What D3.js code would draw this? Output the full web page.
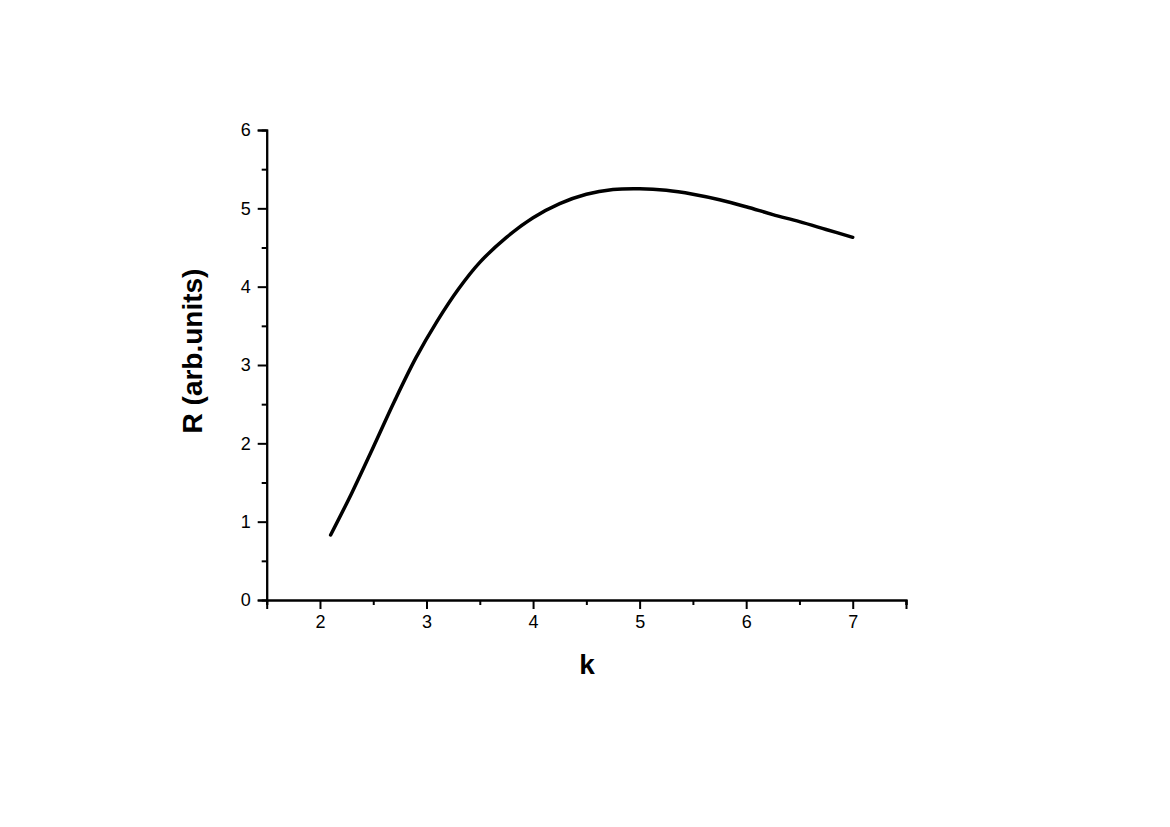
<!DOCTYPE html>
<html>
<head>
<meta charset="utf-8">
<script src="https://cdn.jsdelivr.net/npm/d3@7"></script>
<style>
    body { margin: 0; background: #fff; }
    svg text { font-family: "Liberation Sans", Arial, sans-serif; fill: #000; }
</style>
</head>
<body>
<script>
"use strict";

const kValues = [2.1, 2.3, 2.5, 2.7, 2.9, 3.1, 3.3, 3.5, 3.75, 4.0, 4.25, 4.5, 4.75, 5.0, 5.25, 5.5, 5.75, 6.0, 6.25, 6.5, 6.75, 7.0];
const rValues = [0.83, 1.37, 1.95, 2.54, 3.09, 3.56, 3.97, 4.31, 4.63, 4.88, 5.06, 5.18, 5.24, 5.25, 5.23, 5.18, 5.11, 5.02, 4.92, 4.83, 4.73, 4.63];
const xMajorTicks = [2, 3, 4, 5, 6, 7];
const xMinorTicks = [1.5, 2.5, 3.5, 4.5, 5.5, 6.5, 7.5];
const yMajorTicks = [0, 1, 2, 3, 4, 5, 6];
const yMinorTicks = [0.5, 1.5, 2.5, 3.5, 4.5, 5.5];
const xTitle = "k";
const yTitle = "R (arb.units)";

(function(){
    const measurements = {
        width: 1170,
        height: 827,
        left: 266.7,
        right: 906,
        top: 130,
        bottom: 600
    }

    const svg = d3.select("body").append("svg")
        .attr("width", measurements.width)
        .attr("height", measurements.height);

    const scaleX = d3.scaleLinear()
        .domain([1.5, 7.5])
        .range([measurements.left, measurements.right]);

    const scaleY = d3.scaleLinear()
        .domain([0, 6])
        .range([measurements.bottom, measurements.top]);

    // minor ticks first, majors drawn on top with labels
    const xMinor = svg.append("g")
        .attr("transform", `translate(0,${measurements.bottom})`)
        .call(d3.axisBottom(scaleX).tickValues(xMinorTicks).tickSize(5).tickFormat(""));
    const xMajor = svg.append("g")
        .attr("transform", `translate(0,${measurements.bottom})`)
        .call(d3.axisBottom(scaleX).tickValues(xMajorTicks).tickSize(9).tickPadding(6).tickFormat(d3.format("d")));

    const yMinor = svg.append("g")
        .attr("transform", `translate(${measurements.left},0)`)
        .call(d3.axisLeft(scaleY).tickValues(yMinorTicks).tickSize(5).tickFormat(""));
    const yMajor = svg.append("g")
        .attr("transform", `translate(${measurements.left},0)`)
        .call(d3.axisLeft(scaleY).tickValues(yMajorTicks).tickSize(9).tickPadding(7).tickFormat(d3.format("d")));

    [xMinor, xMajor, yMinor, yMajor].forEach(g => {
        g.attr("font-size", null).attr("font-family", null);
        g.selectAll("path").attr("stroke", "#000").attr("stroke-width", 2);
        g.selectAll("line").attr("stroke", "#000").attr("stroke-width", 2);
        g.selectAll("text").style("font-size", "18px").attr("fill", "#000");
    });

    const points = kValues.map((k, i) => [k, rValues[i]]);

    const line = d3.line()
        .x(d => scaleX(d[0]))
        .y(d => scaleY(d[1]))
        .curve(d3.curveCatmullRom.alpha(0.5));

    svg.append("path")
        .datum(points)
        .attr("d", line)
        .attr("fill", "none")
        .attr("stroke", "#000")
        .attr("stroke-width", 3.5)
        .attr("stroke-linecap", "round");

    svg.append("text")
        .attr("x", 587)
        .attr("y", 674)
        .attr("text-anchor", "middle")
        .style("font-size", "28px")
        .style("font-weight", "bold")
        .text(xTitle);

    svg.append("text")
        .attr("transform", "translate(202, 351)rotate(-90)")
        .attr("text-anchor", "middle")
        .style("font-size", "28px")
        .style("font-weight", "bold")
        .text(yTitle);
})()
</script>
</body>
</html>
